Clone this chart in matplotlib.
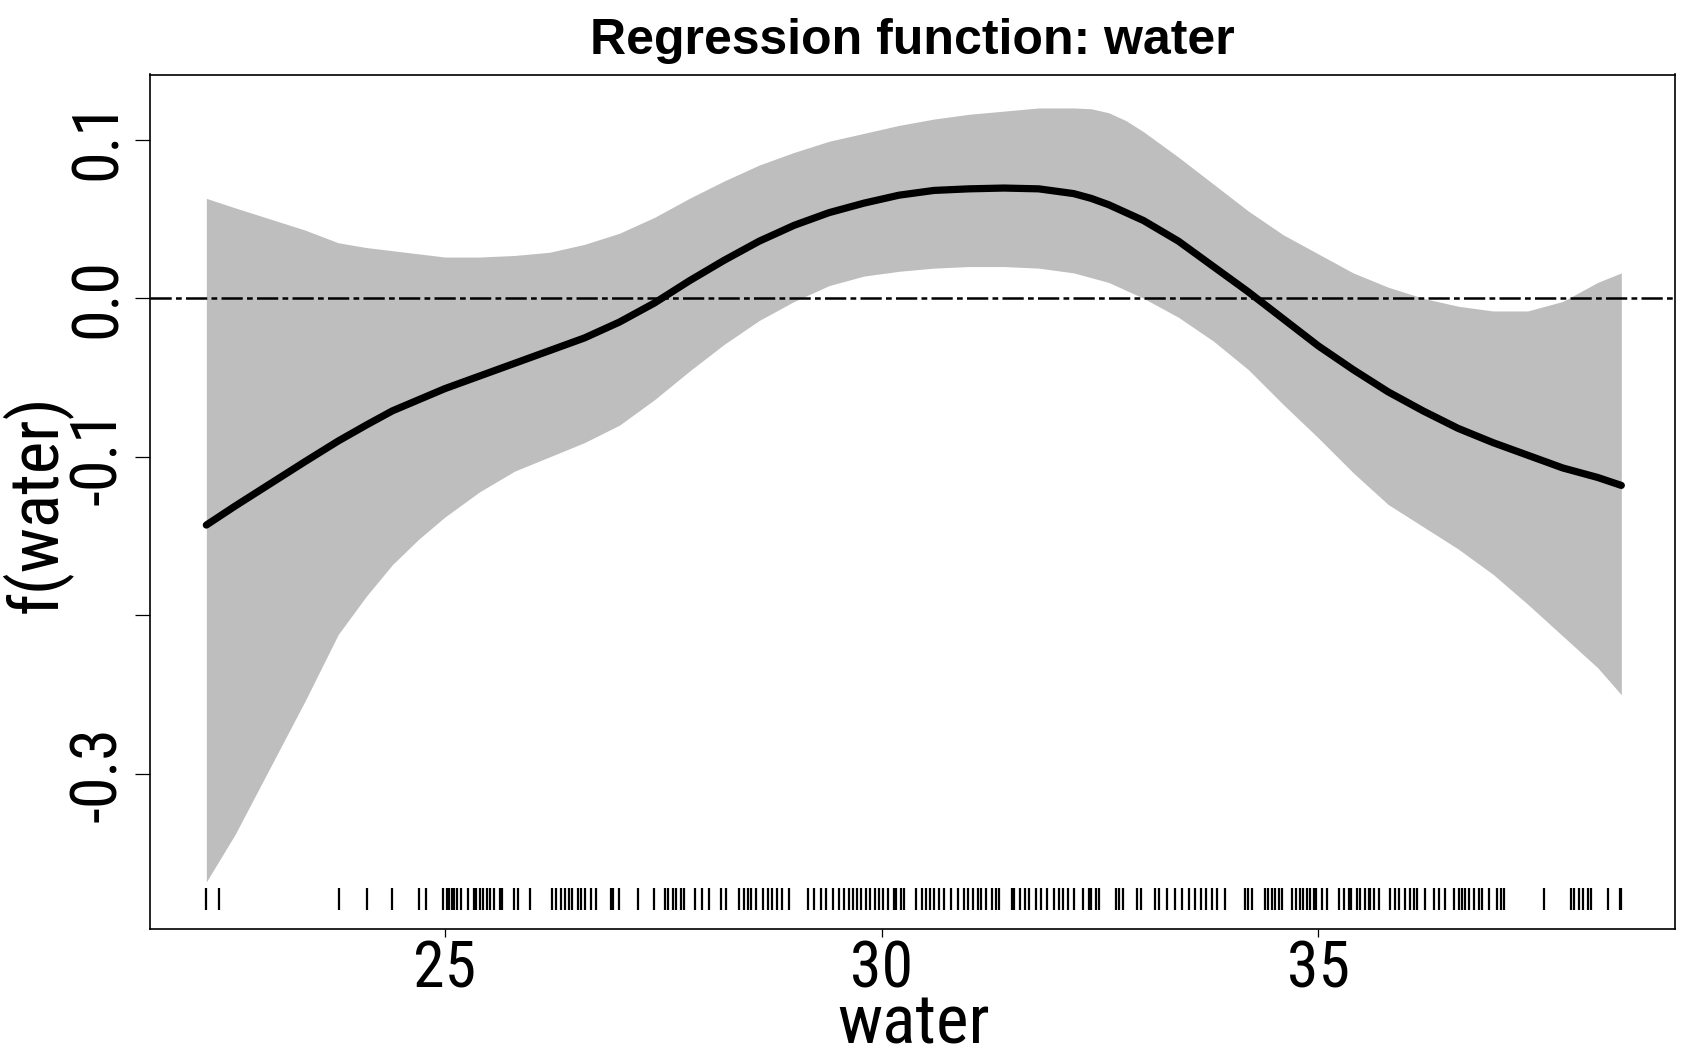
import matplotlib
matplotlib.use("Agg")
import matplotlib.pyplot as plt
from matplotlib import font_manager
from matplotlib.font_manager import FontProperties

# ---------------- data ----------------
water_grid = [22.27, 22.6, 23.0, 23.4, 23.78, 24.1, 24.4, 24.7, 25.0, 25.4, 25.8, 26.2,
              26.6, 27.0, 27.4, 27.8, 28.2, 28.6, 29.0, 29.4, 29.8, 30.2, 30.6, 31.0,
              31.4, 31.8, 32.2, 32.4, 32.6, 32.8, 33.0, 33.4, 33.8, 34.2, 34.6, 35.0,
              35.4, 35.8, 36.2, 36.6, 37.0, 37.4, 37.8, 38.2, 38.47]

f_mean = [-0.143, -0.131, -0.117, -0.103, -0.090, -0.080, -0.071, -0.064, -0.057, -0.049,
          -0.041, -0.033, -0.025, -0.015, -0.003, 0.011, 0.024, 0.036, 0.046, 0.054,
          0.060, 0.065, 0.068, 0.069, 0.0695, 0.069, 0.066, 0.063, 0.059, 0.054,
          0.049, 0.036, 0.020, 0.004, -0.013, -0.030, -0.045, -0.059, -0.071, -0.082,
          -0.091, -0.099, -0.107, -0.113, -0.118]

f_upper = [0.063, 0.057, 0.050, 0.043, 0.035, 0.032, 0.030, 0.028, 0.026, 0.026,
           0.027, 0.029, 0.034, 0.041, 0.051, 0.063, 0.074, 0.084, 0.092, 0.099,
           0.104, 0.109, 0.113, 0.116, 0.118, 0.120, 0.120, 0.1195, 0.117, 0.112,
           0.105, 0.089, 0.072, 0.055, 0.040, 0.028, 0.016, 0.007, 0.000, -0.005,
           -0.008, -0.008, -0.002, 0.010, 0.016]

f_lower = [-0.368, -0.338, -0.296, -0.254, -0.212, -0.188, -0.168, -0.152, -0.138, -0.122,
           -0.109, -0.100, -0.091, -0.080, -0.064, -0.046, -0.029, -0.014, -0.002, 0.008,
           0.014, 0.017, 0.019, 0.020, 0.020, 0.019, 0.016, 0.013, 0.010, 0.005,
           0.000, -0.012, -0.027, -0.045, -0.067, -0.088, -0.110, -0.130, -0.144, -0.158,
           -0.174, -0.193, -0.213, -0.233, -0.250]

water_obs = [22.27, 22.42, 23.79, 24.11, 24.39, 24.71, 24.79,
             24.98, 25.02, 25.05, 25.08, 25.11, 25.14, 25.18, 25.27, 25.33, 25.36,
             25.40, 25.44, 25.48, 25.52, 25.56, 25.63, 25.66, 25.79, 25.84, 25.97,
             26.23, 26.27, 26.33, 26.38, 26.42, 26.46, 26.52, 26.56, 26.61, 26.67, 26.73,
             26.90, 26.93, 26.99, 27.21, 27.39, 27.52, 27.56, 27.61, 27.65, 27.70, 27.74,
             27.87, 27.95, 28.02, 28.16, 28.22, 28.37, 28.42, 28.47, 28.51, 28.56, 28.64,
             28.70, 28.75, 28.80, 28.86, 28.94, 29.16, 29.23, 29.31, 29.36, 29.44, 29.51,
             29.57, 29.63, 29.67, 29.72, 29.77, 29.82, 29.87, 29.92, 29.97, 30.02, 30.07,
             30.14, 30.17, 30.22, 30.26, 30.40, 30.46, 30.51, 30.55, 30.60, 30.66, 30.72,
             30.80, 30.88, 30.94, 30.99, 31.05, 31.11, 31.14, 31.20, 31.26, 31.31, 31.35,
             31.49, 31.52, 31.58, 31.64, 31.69, 31.77, 31.83, 31.89, 31.98, 32.03, 32.08,
             32.14, 32.20, 32.31, 32.37, 32.40, 32.46, 32.49, 32.68, 32.72, 32.76, 32.93,
             32.97, 33.13, 33.18, 33.27, 33.36, 33.44, 33.52, 33.59, 33.66, 33.72, 33.78,
             33.84, 33.93, 34.16, 34.20, 34.24, 34.39, 34.43, 34.47, 34.51, 34.55, 34.58,
             34.70, 34.75, 34.79, 34.83, 34.87, 34.91, 34.95, 34.98, 35.04, 35.10, 35.24,
             35.29, 35.35, 35.38, 35.44, 35.48, 35.53, 35.58, 35.59, 35.64, 35.69, 35.82,
             35.88, 35.92, 35.99, 36.05, 36.10, 36.13, 36.22, 36.32, 36.38, 36.45, 36.56,
             36.61, 36.65, 36.68, 36.73, 36.78, 36.84, 36.87, 36.95, 37.05, 37.09, 37.13,
             37.59, 37.89, 37.93, 37.98, 38.03, 38.09, 38.12, 38.32, 38.45, 38.47]

x_ticks = [25, 30, 35]
y_ticks = [0.1, 0.0, -0.1, -0.2, -0.3]
y_tick_labels = ["0.1", "0.0", "-0.1", "", "-0.3"]

title = "Regression function: water"
x_label = "water"
y_label = "f(water)"


# ---------------- fonts ----------------
def pick_narrow_font():
    entries = font_manager.fontManager.ttflist
    regular = (400, "normal", "regular", "book")
    for name in ["Liberation Sans Narrow", "Arial Narrow", "Roboto Condensed",
                 "Open Sans Condensed", "Noto Sans Condensed", "DejaVu Sans Condensed"]:
        for e in entries:
            if e.name == name and e.style == "normal" and e.weight in regular:
                return e.fname, True
    for fam in ["Roboto", "Noto Sans", "Open Sans", "DejaVu Sans"]:
        for e in entries:
            if (e.name == fam and e.style == "normal" and e.stretch == "condensed"
                    and e.weight in regular):
                return e.fname, True
    return None, False


narrow_file, has_narrow = pick_narrow_font()
if has_narrow:
    def fp(size):
        return FontProperties(fname=narrow_file, size=size)
    tick_size, lab_size = 46, 50
else:
    def fp(size):
        return FontProperties(family=["Liberation Sans", "DejaVu Sans"], size=size)
    tick_size, lab_size = 41, 44

W, H = 1692, 1058
fig = plt.figure(figsize=(W / 100, H / 100), dpi=100)
left, right, top, bottom = 150, 1674.6, 74.5, 929.3
ax = fig.add_axes([left / W, 1 - bottom / H, (right - left) / W, (bottom - top) / H])

ax.fill_between(water_grid, f_lower, f_upper, color="#BEBEBE", linewidth=0, zorder=1)
ax.axhline(0, color="black", lw=1.8, dashes=(8.5, 1.7, 2.3, 1.7), zorder=2)
ax.plot(water_grid, f_mean, color="black", lw=5.2, solid_capstyle="round",
        solid_joinstyle="round", zorder=3)
ax.vlines(water_obs, -0.3857, -0.3720, color="black", lw=1.6, zorder=3)

ax.set_xlim(21.625, 39.08)
ax.set_ylim(-0.3979, 0.1411)

ax.set_xticks(x_ticks)
ax.set_xticklabels([str(t) for t in x_ticks])
ax.set_yticks(y_ticks)
ax.set_yticklabels(y_tick_labels)

ax.tick_params(axis="x", direction="out", length=5.8, width=0.9, pad=0.5)
ax.tick_params(axis="y", direction="out", length=10.8, width=0.9, pad=4.5,
               labelrotation=90)
for lbl in ax.get_xticklabels():
    lbl.set_fontproperties(fp(tick_size))
for lbl in ax.get_yticklabels():
    lbl.set_fontproperties(fp(tick_size))
    lbl.set_verticalalignment("center")

for sp in ax.spines.values():
    sp.set_linewidth(1.2)
    sp.set_color("black")

fig.text(912 / W, 1 - 54 / H, title, ha="center", va="baseline", fontsize=36,
         fontweight="bold", family=["Liberation Sans", "DejaVu Sans"])
fig.text(914 / W, 1 - 1044 / H, x_label, ha="center", va="baseline",
         fontproperties=fp(lab_size))
fig.text(72 / W, 1 - 504 / H, y_label, ha="right", va="center", rotation=90,
         fontproperties=fp(lab_size))

fig.savefig("out.png", dpi=100)
